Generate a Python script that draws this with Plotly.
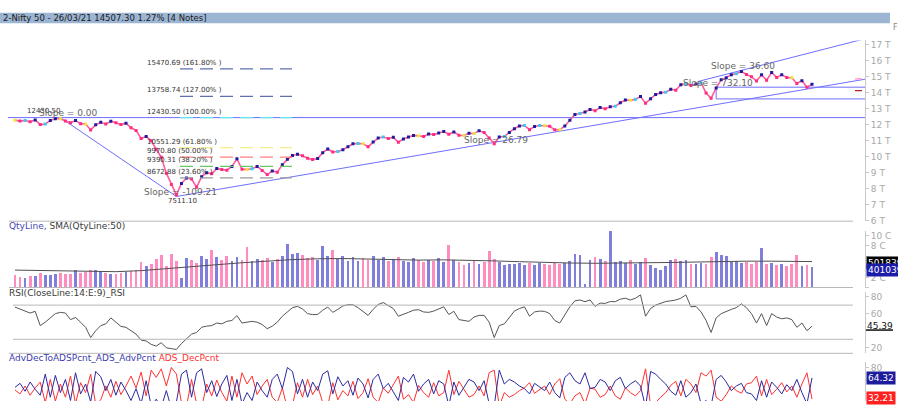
import plotly.graph_objects as go

W, H = 898, 406
FONT = "DejaVu Sans"

# ---------------- data (one sample every 2 trading days, Dec-2019 .. 26-Mar-2021) ----------------
PRICE = [
    12272, 12214, 12246, 12168, 12282, 11993, 12025, 12257, 12362, 12355,
    12224, 12106, 12248, 12055, 12035, 11662, 11979, 12138, 12031, 12202,
    12113, 11993, 12081, 11798, 11633, 11132, 11251, 10989, 10458, 9955,
    8967, 8264, 7610, 8318, 8660, 8598, 8084, 8749, 8994, 8925,
    9262, 9187, 9154, 9380, 9860, 9206, 9199, 9240, 9384, 9137,
    8880, 9107, 9029, 9491, 9826, 10061, 10142, 10047, 9902, 9813,
    9881, 10244, 10471, 10288, 10312, 10430, 10607, 10800, 10813, 10802,
    10618, 10902, 11162, 11216, 11132, 11202, 10892, 11102, 11214, 11322,
    11300, 11247, 11408, 11372, 11472, 11559, 11388, 11536, 11333, 11318,
    11450, 11441, 11605, 11505, 11153, 10806, 11228, 11248, 11503, 11738,
    11914, 11935, 11680, 11873, 11938, 11930, 11889, 11670, 11669, 11908,
    12264, 12631, 12691, 12780, 12938, 12860, 13055, 12987, 13110, 13134,
    13356, 13529, 13514, 13568, 13741, 13329, 13602, 13873, 13982, 14019,
    14199, 14137, 14485, 14565, 14434, 14521, 14590, 13968, 13634, 14281,
    14790, 14924, 15110, 15173, 15314, 15119, 14982, 14708, 15097, 14761,
    15246, 14938, 15099, 14929, 14911, 14558, 14736, 14324, 14507,
]

VOLUME_CR = [  # traded quantity, crore
    2.6, 2.2, 2.0, 2.3, 2.4, 2.9, 2.5, 2.6, 2.8, 3.0,
    2.7, 2.8, 3.5, 2.9, 3.1, 3.6, 3.5, 3.4, 2.9, 2.8,
    2.8, 3.0, 3.1, 3.4, 3.6, 5.0, 4.2, 4.6, 5.6, 6.4,
    4.3, 6.5, 5.2, 1.9, 5.7, 5.4, 4.8, 6.2, 5.6, 7.3,
    5.9, 5.5, 6.2, 5.3, 6.0, 5.5, 7.9, 5.2, 5.6, 5.4,
    5.8, 5.0, 5.6, 6.2, 8.4, 6.6, 6.8, 6.4, 5.7, 6.0,
    5.5, 8.0, 6.2, 7.3, 5.6, 6.2, 5.3, 5.9, 5.2, 5.8,
    5.5, 6.1, 5.4, 5.9, 5.2, 5.6, 6.0, 5.3, 5.1, 5.8,
    5.4, 5.0, 5.5, 5.2, 5.7, 5.1, 8.3, 5.4, 5.0, 4.4,
    4.8, 5.2, 4.6, 5.0, 7.2, 5.6, 5.0, 4.5, 4.7, 4.6,
    4.9, 4.4, 4.8, 4.5, 4.9, 4.6, 4.4, 4.8, 4.7, 4.9,
    5.2, 6.6, 6.4, 0.8, 5.4, 6.0, 5.6, 5.2, 10.9, 5.0,
    5.3, 4.8, 5.4, 4.6, 5.0, 5.7, 4.4, 3.8, 3.5, 4.2,
    5.4, 5.6, 5.2, 5.5, 4.7, 4.6, 4.9, 4.7, 6.0, 6.9,
    6.4, 6.2, 5.0, 5.3, 4.8, 5.1, 4.7, 5.0, 7.7, 4.6,
    4.9, 4.4, 4.7, 4.3, 4.6, 6.4, 4.2, 4.4, 4.0103,
]

SMA_STEP = 5  # SMA(50) read every 5 samples, plus the last sample
SMA50_CR = [
    3.4, 3.3, 3.2, 3.1, 3.1, 3.3, 3.7, 4.1, 4.5, 4.8,
    5.1, 5.4, 5.55, 5.6, 5.5, 5.35, 5.3, 5.35, 5.3, 5.15,
    5.0, 4.85, 4.75, 4.7, 4.8, 4.8, 4.85, 4.95, 5.0, 5.1,
    5.1, 5.05, 5.02,
]

RSI = [
    67.7, 65.5, 63.8, 60.7, 62.7, 46, 50, 55, 60, 61.5,
    60.7, 53, 55.5, 50, 44, 32, 40, 46, 48, 55,
    50, 45, 44, 40, 36, 29, 28, 24, 22, 26,
    20, 19, 18, 25, 31, 36, 38, 44, 45.4, 46,
    49, 48, 51, 52, 57.7, 49, 50, 51, 50, 47.3,
    42.3, 45.4, 50, 57, 62, 67, 68.5, 65.4, 60, 58.9,
    59, 64, 67.7, 61.5, 65, 69, 70.4, 70.4, 67, 62,
    58, 65, 70.7, 73, 69, 66, 57, 59, 61.5, 64,
    64.6, 62, 61.5, 63, 65.4, 68, 59, 62.7, 53, 52,
    51, 56, 58, 58, 50, 32, 46, 48, 56, 63,
    66, 68, 57, 62, 63, 62.7, 60, 52, 49, 58,
    68, 75, 76, 74, 76, 68.5, 72.3, 72, 74.2, 74,
    77, 78, 76, 78, 82, 57, 66, 70, 72, 74.2,
    75, 76, 78, 82, 68, 68.5, 62, 52, 38, 55,
    60, 62.7, 65, 67, 71.5, 67, 60, 49, 60, 46,
    60, 56, 54, 55, 53, 44, 49, 40, 45.39,
]

ADV_PCT = [
    50, 56, 44, 58, 47, 38, 70, 35, 68, 42,
    62, 30, 72, 40, 55, 28, 74, 66, 45, 62,
    38, 58, 45, 30, 48, 25, 60, 22, 32, 20,
    45, 18, 28, 70, 76, 35, 72, 78, 42, 60,
    36, 55, 68, 30, 62, 25, 42, 30, 58, 45,
    35, 62, 70, 48, 80, 74, 40, 62, 35, 58,
    45, 70, 75, 40, 66, 52, 60, 38, 64, 55,
    34, 62, 70, 48, 56, 42, 30, 65, 58, 70,
    44, 55, 62, 40, 60, 55, 22, 58, 38, 50,
    62, 58, 45, 60, 25, 22, 76, 55, 62, 58,
    52, 48, 40, 56, 50, 45, 58, 42, 34, 65,
    72, 60, 55, 72, 48, 50, 62, 58, 45, 60,
    65, 48, 55, 60, 52, 20, 74, 70, 62, 55,
    44, 38, 60, 35, 42, 55, 25, 30, 22, 62,
    68, 58, 45, 52, 56, 42, 40, 30, 60, 35,
    58, 50, 40, 54, 45, 62, 42, 25, 64.32,
]

DEC_PCT = [
    46, 40, 52, 38, 49, 58, 27, 62, 29, 55,
    35, 67, 25, 57, 42, 70, 24, 31, 52, 35,
    59, 39, 52, 67, 49, 73, 37, 76, 65, 78,
    52, 80, 70, 27, 21, 62, 25, 19, 55, 37,
    61, 42, 29, 67, 35, 72, 55, 67, 39, 52,
    62, 35, 27, 49, 17, 23, 57, 35, 62, 39,
    52, 27, 22, 57, 31, 45, 37, 59, 33, 42,
    63, 35, 27, 49, 41, 55, 67, 32, 39, 27,
    53, 42, 35, 57, 37, 42, 76, 39, 59, 47,
    35, 39, 52, 37, 72, 76, 21, 42, 35, 39,
    45, 49, 57, 41, 47, 52, 39, 55, 63, 32,
    25, 37, 42, 25, 49, 47, 35, 39, 52, 37,
    32, 49, 42, 37, 45, 78, 23, 27, 35, 42,
    53, 59, 37, 62, 55, 42, 72, 67, 76, 35,
    29, 39, 52, 45, 41, 55, 57, 67, 37, 62,
    39, 47, 57, 43, 52, 35, 55, 72, 32.21,
]

FIB_LEVELS = [15470.69, 13758.74, 12430.50, 10551.29, 9970.80, 9390.31, 8672.88]
FIB_PCTS = ["161.80%", "127.00%", "100.00%", "61.80%", "50.00%", "38.20%", "23.60%"]

SWING_HIGH = (9, 12430.50)       # sample index, value
SWING_LOW = (32, 7511.10)
SUPPORT_SLOPE_PER_DAY = 26.79
DAYS_PER_SAMPLE = 2
UPPER_LINE = [(135.4, 14683), (168.5, 17350)]
JUMP_IDX, JUMP_LOW, JUMP_RISE = 139, 13596.75, 732.10
MARKER_LEVELS = [14850, 14110]

LAST_SMA_TXT, LAST_VOL_TXT = "50183958", "40103951"

# ---------------- geometry ----------------
N = len(PRICE)
IDX = list(range(N))
PLOT_L, PLOT_R = 8, 865
X_FIRST_PX, X_LAST_PX = 15, 812
STEP = (X_LAST_PX - X_FIRST_PX) / (N - 1)
X0 = (PLOT_L - X_FIRST_PX) / STEP
X1 = (PLOT_R - X_FIRST_PX) / STEP


def pxx(p):
    return p / W


def pxy(p):
    return 1 - p / H


PINK, NAVY, CYAN, YELLOW = "#ff2d80", "#1c1c9c", "#3cc8f0", "#f0e040"
TREND = "#6e6eff"
GRID = "#b8b8b8"
AXC = "#a8a8a8"

pcol = []
for k in range(N):
    ch = 0 if k == 0 else (PRICE[k] - PRICE[k - 1]) / PRICE[k - 1] * 100
    if ch > 0.6:
        pcol.append(NAVY)
    elif ch > 0:
        pcol.append(CYAN)
    elif ch > -0.2:
        pcol.append(YELLOW)
    else:
        pcol.append(PINK)

vcol = ["#8080dc" if (k > 0 and PRICE[k] >= PRICE[k - 1]) else "#ff8cbe" for k in range(N)]

fig = go.Figure()

# --- trend lines (main panel) ---
def tline(p0, p1, width=1):
    fig.add_trace(go.Scatter(x=[p0[0], p1[0]], y=[p0[1], p1[1]], mode="lines",
                             line=dict(color=TREND, width=width), yaxis="y", hoverinfo="skip"))

tline((X0, SWING_HIGH[1]), (X1, SWING_HIGH[1]))
tline(SWING_HIGH, SWING_LOW)
tline(SWING_LOW, (X1, SWING_LOW[1] + SUPPORT_SLOPE_PER_DAY * DAYS_PER_SAMPLE * (X1 - SWING_LOW[0])))
tline(UPPER_LINE[0], UPPER_LINE[1])
tline((JUMP_IDX, JUMP_LOW), (JUMP_IDX, JUMP_LOW + JUMP_RISE))
tline((JUMP_IDX, JUMP_LOW + JUMP_RISE), (X1, JUMP_LOW + JUMP_RISE))
tline((JUMP_IDX, JUMP_LOW), (X1, JUMP_LOW))

# --- price ---
fig.add_trace(go.Scatter(x=IDX, y=PRICE, mode="lines+markers", yaxis="y",
                         line=dict(color="#ff5c9e", width=1.6),
                         marker=dict(symbol="square", size=3, color=pcol, line=dict(width=0)),
                         hoverinfo="skip"))

# --- volume ---
fig.add_trace(go.Bar(x=IDX, y=VOLUME_CR, yaxis="y2", marker=dict(color=vcol, line=dict(width=0)),
                     width=0.55, hoverinfo="skip"))
sma_x = list(range(0, N - 3, SMA_STEP)) + [N - 1]
fig.add_trace(go.Scatter(x=sma_x, y=SMA50_CR, yaxis="y2", mode="lines",
                         line=dict(color="#505050", width=1), hoverinfo="skip"))

# --- RSI ---
fig.add_trace(go.Scatter(x=IDX, y=RSI, yaxis="y3", mode="lines",
                         line=dict(color="#555555", width=1), hoverinfo="skip"))

# --- ADS ---
fig.add_trace(go.Scatter(x=IDX, y=DEC_PCT, yaxis="y4", mode="lines",
                         line=dict(color="#ff3030", width=1), hoverinfo="skip"))
fig.add_trace(go.Scatter(x=IDX, y=ADV_PCT, yaxis="y4", mode="lines",
                         line=dict(color="#2a2aa0", width=1), hoverinfo="skip"))

shapes = []
# title bar
shapes.append(dict(type="rect", xref="paper", yref="paper", x0=0, x1=pxx(890), y0=pxy(22.5), y1=pxy(12),
                   fillcolor="#9cb5d2", line=dict(width=0), layer="below"))
# separators
for yy in (223.5, 290.8, 357.6):
    shapes.append(dict(type="line", xref="paper", yref="paper", x0=pxx(9), x1=pxx(853), y0=pxy(yy), y1=pxy(yy),
                       line=dict(color=GRID, width=1)))
# RSI 70/30
for lvl in (70, 30):
    shapes.append(dict(type="line", xref="paper", yref="y3", x0=pxx(13), x1=pxx(853), y0=lvl, y1=lvl,
                       line=dict(color=GRID, width=1)))
# Fibonacci dashed levels
FIB_COLORS = ["#6070b0", "#6070b0", "#5ee8f0", "#f2ea70", "#ff8080", "#68c868", "#9a9a9a"]
for lvl, c in zip(FIB_LEVELS, FIB_COLORS):
    shapes.append(dict(type="line", xref="paper", yref="y", x0=pxx(180), x1=pxx(292), y0=lvl, y1=lvl,
                       line=dict(color=c, width=1.2, dash="13px,7px")))
# right-edge level markers
for lvl, c in zip(MARKER_LEVELS, ["#ff8fc0", "#b02020"]):
    shapes.append(dict(type="line", xref="paper", yref="y", x0=pxx(855), x1=pxx(862), y0=lvl, y1=lvl,
                       line=dict(color=c, width=1.3)))
# RSI underline of last value
shapes.append(dict(type="line", xref="paper", yref="paper", x0=pxx(866), x1=pxx(893), y0=pxy(334), y1=pxy(334),
                   line=dict(color="#111111", width=1.5)))

ann = []


def A(x, y, text, color="#333333", size=9, xanchor="left", bg=None, pad=0, yref="paper", yv=None, yshift=0):
    d = dict(x=pxx(x), xref="paper", text=text, showarrow=False, xanchor=xanchor, yanchor="middle",
             font=dict(family=FONT, size=size, color=color), borderpad=pad, yshift=yshift)
    if yref == "paper":
        d.update(y=pxy(y), yref="paper")
    else:
        d.update(y=yv, yref=yref)
    if bg:
        d["bgcolor"] = bg
    ann.append(d)


A(2, 17.5, "2-Nifty 50 - 26/03/21 14507.30 1.27% [4 Notes]", "#1a1a1a", 8.5)
A(892, 27, "F", "#888888", 8)

for lvl, pct in zip(FIB_LEVELS, FIB_PCTS):
    A(146, 0, f"{lvl:.2f} ({pct} )", "#333333", 7, yref="y", yv=lvl, yshift=6)

A(26, 112, f"{SWING_HIGH[1]:.2f}", "#333333", 7)
A(38, 113.5, "Slope = 0.00", "#666666", 9)
A(143, 194, "Slope = -109.21", "#666666", 9)
A(167, 203.5, f"{SWING_LOW[1]:.2f}", "#333333", 7)
A(463, 141, f"Slope = {SUPPORT_SLOPE_PER_DAY:.2f}", "#666666", 9)
A(682, 83, f"Slope = {JUMP_RISE:.2f}", "#666666", 9)
A(710, 66, "Slope = 36.60", "#666666", 9)

A(8, 228.5, '<span style="color:#4646b4">QtyLine,</span> SMA(QtyLine:50)', "#3a3a3a", 9)
A(8, 296.5, "RSI(CloseLine:14:E:9)_RSI", "#3a3a3a", 9)
A(8, 362.5, '<span style="color:#3c3cb0">AdvDecToADSPcnt_ADS_AdvPcnt</span> '
            '<span style="color:#ff3030">ADS_DecPcnt</span>', "#3a3a3a", 9)

A(866, 266, LAST_SMA_TXT, "#ffffff", 9, bg="#000000", pad=1)
A(866, 273.5, LAST_VOL_TXT, "#ffffff", 9, bg="#1c1caa", pad=1)
A(866, 329.5, f"{RSI[-1]:.2f}", "#111111", 9)
A(866, 382.5, f"{ADV_PCT[-1]:.2f}", "#ffffff", 9, bg="#1c1c9c", pad=1)
A(866, 403, f"{DEC_PCT[-1]:.2f}", "#ffffff", 9, bg="#ff2020", pad=1)


def yax(top, bot, rng, vals, texts):
    return dict(domain=[pxy(bot), pxy(top)], range=rng, side="right", anchor="x",
                showgrid=False, zeroline=False, showline=True, linecolor="#c8c8c8", linewidth=1,
                ticks="outside", ticklen=3, tickcolor="#c8c8c8", tickvals=vals, ticktext=texts,
                tickfont=dict(family=FONT, size=9, color=AXC), fixedrange=True)


main_top_val = 17000 + (44 - 40) / (179 / 11000)
T_TICKS = list(range(6000, 17001, 1000))
C_TICKS = [0, 2, 4, 6, 8, 10]
fig.update_layout(
    width=W, height=H, margin=dict(l=0, r=0, t=0, b=0), autosize=False,
    paper_bgcolor="white", plot_bgcolor="white", showlegend=False, bargap=0,
    xaxis=dict(domain=[pxx(PLOT_L), pxx(PLOT_R)], range=[X0, X1], visible=False, fixedrange=True),
    yaxis=yax(40, 223, [6000, main_top_val], T_TICKS, [f"{v // 1000} T" for v in T_TICKS]),
    # labels hidden behind the value boxes on the right are left blank
    yaxis2=yax(233, 291.3, [0, (291.3 - 233) / 5.34], C_TICKS, ["", "2 C", "", "", "8 C", "10 C"]),
    yaxis3=yax(295, 357.5, [80 - (357.5 - 300) / 0.8667, 80 + 5 / 0.8667], [20, 40, 60, 80],
               ["20", "", "60", "80"]),
    yaxis4=yax(366, 406, [80 - 34 / 0.67, 80 + 6 / 0.67], [40, 60, 80], ["", "", "80"]),
    shapes=shapes, annotations=ann,
)

fig.write_html("out.html", config={"displayModeBar": False},
               post_script="document.body.style.margin='0';document.body.style.overflow='hidden';")
